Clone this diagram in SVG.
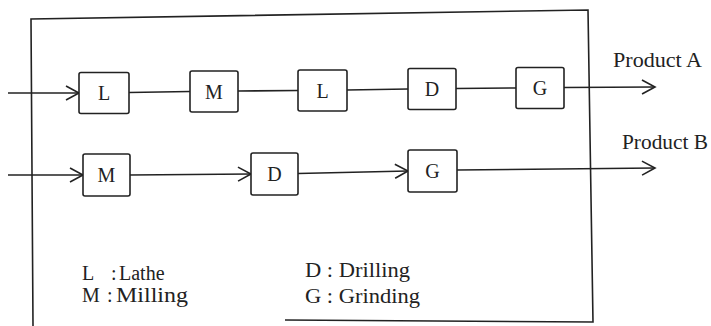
<svg xmlns="http://www.w3.org/2000/svg" width="711" height="326" viewBox="0 0 711 326">
<style>
.box{fill:#fff;stroke:#222;stroke-width:1.6}
.ln{fill:none;stroke:#222;stroke-width:1.6}
.lbl{font-family:"Liberation Serif","Times New Roman",serif;font-size:20px;fill:#222;text-anchor:middle;dominant-baseline:central}
.txt{font-family:"Liberation Serif","Times New Roman",serif;font-size:20px;fill:#222}
</style>
<defs>
<marker id="arr" markerUnits="userSpaceOnUse" markerWidth="16" markerHeight="18" refX="14" refY="8" orient="auto">
<path d="M1,1 L14,8 L1,15" fill="none" stroke="#222" stroke-width="1.6"/>
</marker>
</defs>
<rect width="711" height="326" fill="#fff"/>
<g id="frame">
<path class="ln" d="M285,320 L593,322 L588,10 L31,19 L33,326"/>
</g>
<g id="connectors">
<line class="ln" x1="8" y1="93" x2="79" y2="93" marker-end="url(#arr)"/>
<line class="ln" x1="129" y1="92.5" x2="190" y2="91.5"/>
<line class="ln" x1="238" y1="91" x2="298" y2="90.5"/>
<line class="ln" x1="347" y1="90" x2="408" y2="89"/>
<line class="ln" x1="456" y1="88.5" x2="516" y2="88"/>
<line class="ln" x1="564" y1="87.5" x2="655" y2="87" marker-end="url(#arr)"/>
<line class="ln" x1="8" y1="175" x2="83" y2="175" marker-end="url(#arr)"/>
<line class="ln" x1="130" y1="175" x2="251" y2="174" marker-end="url(#arr)"/>
<line class="ln" x1="298" y1="173.5" x2="408" y2="171" marker-end="url(#arr)"/>
<line class="ln" x1="457" y1="170" x2="655" y2="168" marker-end="url(#arr)"/>
</g>
<g id="nodeA1"><rect class="box" x="79" y="72.5" width="50" height="41" rx="2"/><text class="lbl" x="104" y="93">L</text></g>
<g id="nodeA2"><rect class="box" x="190" y="71" width="48" height="41" rx="2"/><text class="lbl" x="214" y="91.5">M</text></g>
<g id="nodeA3"><rect class="box" x="298" y="70" width="49" height="41" rx="2"/><text class="lbl" x="322.5" y="90.5">L</text></g>
<g id="nodeA4"><rect class="box" x="408" y="68.5" width="48" height="41" rx="2"/><text class="lbl" x="432" y="89">D</text></g>
<g id="nodeA5"><rect class="box" x="516" y="67.5" width="48" height="41" rx="2"/><text class="lbl" x="540" y="88">G</text></g>
<g id="nodeB1"><rect class="box" x="83" y="154" width="47" height="42" rx="2"/><text class="lbl" x="106.5" y="175">M</text></g>
<g id="nodeB2"><rect class="box" x="251" y="153" width="47" height="42" rx="2"/><text class="lbl" x="274.5" y="174">D</text></g>
<g id="nodeB3"><rect class="box" x="408" y="150" width="49" height="42" rx="2"/><text class="lbl" x="432.5" y="171">G</text></g>
<g id="outputs">
<text class="txt" x="613" y="67" textLength="89" lengthAdjust="spacingAndGlyphs">Product A</text>
<text class="txt" x="622" y="149" textLength="86" lengthAdjust="spacingAndGlyphs">Product B</text>
</g>
<g id="legend">
<text class="txt" x="82" y="280">L</text><text class="txt" x="111" y="280">:</text><text class="txt" x="119" y="280">Lathe</text>
<text class="txt" x="82" y="302">M</text><text class="txt" x="107" y="302">:</text><text class="txt" x="116" y="302" textLength="72" lengthAdjust="spacingAndGlyphs">Milling</text>
<text class="txt" x="305" y="277" textLength="105" lengthAdjust="spacingAndGlyphs">D : Drilling</text>
<text class="txt" x="305" y="303" textLength="115" lengthAdjust="spacingAndGlyphs">G : Grinding</text>
</g>
</svg>
